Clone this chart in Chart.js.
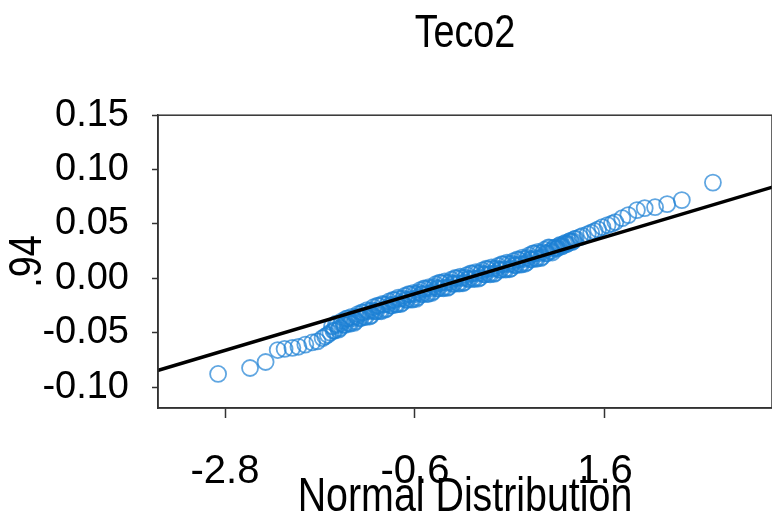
<!DOCTYPE html>
<html>
<head>
<meta charset="utf-8">
<script src="https://cdn.jsdelivr.net/npm/chart.js@4"></script>
<style>
  html, body { margin: 0; padding: 0; background: #fff; }
  canvas { display: block; }
</style>
</head>
<body>
<canvas id="qqPlot" width="772" height="525"></canvas>
<script>
// normal quantiles (x) and sorted returns (y)
const qqX = [
  -2.88, -2.51, -2.33, -2.19, -2.11, -2.02, -1.95, -1.87, -1.79, -1.73, -1.67, -1.64, -1.61, -1.58,
  -1.56, -1.53, -1.50, -1.47, -1.44, -1.41, -1.38, -1.35, -1.32, -1.29, -1.26, -1.23, -1.20, -1.17,
  -1.14, -1.11, -1.08, -1.05, -1.02, -0.99, -0.96, -0.93, -0.90, -0.87, -0.84, -0.81, -0.78, -0.75,
  -0.72, -0.69, -0.66, -0.63, -0.60, -0.57, -0.54, -0.51, -0.48, -0.45, -0.42, -0.39, -0.36, -0.33,
  -0.30, -0.27, -0.24, -0.21, -0.18, -0.15, -0.12, -0.09, -0.06, -0.03, 0.00, 0.03, 0.06, 0.09,
  0.12, 0.15, 0.18, 0.21, 0.24, 0.27, 0.30, 0.33, 0.36, 0.39, 0.42, 0.45, 0.48, 0.51,
  0.54, 0.57, 0.60, 0.63, 0.66, 0.69, 0.72, 0.75, 0.78, 0.81, 0.84, 0.87, 0.90, 0.93,
  0.96, 0.99, 1.02, 1.05, 1.08, 1.11, 1.14, 1.17, 1.20, 1.23, 1.26,
  1.31, 1.34, 1.40, 1.44, 1.48, 1.52, 1.57, 1.63, 1.68, 1.72, 1.80, 1.87, 1.97, 2.06, 2.18, 2.32, 2.49, 2.85,
  // second pass through the crowded middle
  -1.545, -1.515, -1.485, -1.455, -1.425, -1.395, -1.365, -1.335, -1.305, -1.275, -1.245, -1.215,
  -1.185, -1.155, -1.125, -1.095, -1.065, -1.035, -1.005, -0.975, -0.945, -0.915, -0.885, -0.855,
  -0.825, -0.795, -0.765, -0.735, -0.705, -0.675, -0.645, -0.615, -0.585, -0.555, -0.525, -0.495,
  -0.465, -0.435, -0.405, -0.375, -0.345, -0.315, -0.285, -0.255, -0.225, -0.195, -0.165, -0.135,
  -0.105, -0.075, -0.045, -0.015, 0.015, 0.045, 0.075, 0.105, 0.135, 0.165, 0.195, 0.225,
  0.255, 0.285, 0.315, 0.345, 0.375, 0.405, 0.435, 0.465, 0.495, 0.525, 0.555, 0.585,
  0.615, 0.645, 0.675, 0.705, 0.735, 0.765, 0.795, 0.825, 0.855, 0.885, 0.915, 0.945,
  0.975, 1.005, 1.035, 1.065, 1.095, 1.125, 1.155, 1.185, 1.215, 1.245
];
const qqY = [
  -0.0880, -0.0825, -0.0770, -0.0660, -0.0650, -0.0640, -0.0630, -0.0610, -0.0590, -0.0580, -0.0550, -0.0535, -0.0520, -0.0500,
  -0.0442, -0.0481, -0.0431, -0.0458, -0.0391, -0.0429, -0.0369, -0.0418, -0.0368, -0.0396, -0.0329, -0.0367, -0.0316, -0.0355,
  -0.0305, -0.0343, -0.0266, -0.0304, -0.0254, -0.0303, -0.0243, -0.0280, -0.0213, -0.0251, -0.0201, -0.0240, -0.0190, -0.0228,
  -0.0161, -0.0199, -0.0148, -0.0197, -0.0147, -0.0175, -0.0108, -0.0146, -0.0096, -0.0145, -0.0095, -0.0122, -0.0055, -0.0093,
  -0.0043, -0.0092, -0.0042, -0.0080, -0.0013, -0.0051, 0.0000, -0.0049, 0.0001, -0.0037, 0.0030, -0.0008, 0.0042, -0.0007,
  0.0043, 0.0006, 0.0073, 0.0035, 0.0085, 0.0036, 0.0086, 0.0048, 0.0115, 0.0077, 0.0128, 0.0079, 0.0129, 0.0091,
  0.0158, 0.0120, 0.0170, 0.0126, 0.0176, 0.0144, 0.0211, 0.0173, 0.0228, 0.0179, 0.0229, 0.0196, 0.0263, 0.0230,
  0.0281, 0.0237, 0.0282, 0.0279, 0.0306, 0.0298, 0.0325, 0.0320, 0.0344, 0.0342, 0.0365,
  0.0379, 0.0390, 0.0406, 0.0420, 0.0434, 0.0450, 0.0471, 0.0489, 0.0502, 0.0517, 0.0553, 0.0581, 0.0627, 0.0645, 0.0654, 0.0682, 0.0719, 0.0880,
  // second pass through the crowded middle
  -0.0482, -0.0418, -0.0472, -0.0415, -0.0428, -0.0371, -0.0414, -0.0355, -0.0410, -0.0353, -0.0366, -0.0313,
  -0.0356, -0.0292, -0.0352, -0.0295, -0.0303, -0.0251, -0.0299, -0.0235, -0.0289, -0.0237, -0.0250, -0.0198,
  -0.0241, -0.0177, -0.0237, -0.0185, -0.0198, -0.0145, -0.0193, -0.0134, -0.0189, -0.0132, -0.0145, -0.0093,
  -0.0141, -0.0082, -0.0136, -0.0079, -0.0092, -0.0040, -0.0088, -0.0029, -0.0089, -0.0037, -0.0050, 0.0003,
  -0.0045, 0.0014, -0.0046, 0.0006, -0.0006, 0.0046, -0.0002, 0.0057, -0.0003, 0.0050, 0.0037, 0.0089,
  0.0041, 0.0100, 0.0040, 0.0092, 0.0079, 0.0131, 0.0084, 0.0143, 0.0083, 0.0135, 0.0122, 0.0174,
  0.0128, 0.0190, 0.0133, 0.0188, 0.0175, 0.0229, 0.0184, 0.0243, 0.0185, 0.0240, 0.0229, 0.0284,
  0.0251, 0.0277, 0.0270, 0.0298, 0.0292, 0.0317, 0.0313, 0.0339, 0.0333, 0.0361
];

// reference line
const lineX = [-3.7, 3.7];
const lineY = [-0.0877, 0.0877];

const xTicks = [-2.8, -0.6, 1.6];
const xTickLabels = ["-2.8", "-0.6", "1.6"];
const yTicks = [-0.10, -0.05, 0.00, 0.05, 0.10, 0.15];
const yTickLabels = ["-0.10", "-0.05", "0.00", "0.05", "0.10", "0.15"];

const regular = "'Liberation Sans', Arial, sans-serif";

// box round the plot area
const frame = {
    id: "frame",
    afterDatasetsDraw(chart) {
        const a = chart.chartArea;
        const c = chart.ctx;
        c.save();
        c.strokeStyle = "#333";
        c.lineWidth = 1.5;
        c.strokeRect(a.left, a.top, a.right - a.left, a.bottom - a.top);
        c.restore();
    }
};

// titles in the original use a narrow face; squeeze them along the text direction
function squeezeDraw(obj, fn, vertical) {
    const orig = obj[fn].bind(obj);
    obj[fn] = function (...args) {
        const c = obj.ctx;
        const a = obj.chart.chartArea;
        const cx = (a.left + a.right) / 2;
        const cy = (a.top + a.bottom) / 2;
        c.save();
        if (vertical) {
            c.translate(0, cy); c.scale(1, 0.82); c.translate(0, -cy);
        } else {
            c.translate(cx, 0); c.scale(0.82, 1); c.translate(-cx, 0);
        }
        orig(...args);
        c.restore();
    };
}

const squeeze = {
    id: "squeeze",
    beforeDraw(chart) {
        if (chart.$squeezed) return;
        chart.$squeezed = true;
        squeezeDraw(chart.titleBlock, "draw", false);
        squeezeDraw(chart.scales.x, "drawTitle", false);
        squeezeDraw(chart.scales.y, "drawTitle", true);
    }
};

const ctx = document.getElementById("qqPlot");

new Chart(ctx, {
    type: "scatter",
    data: {
        datasets: [{
            type: "line",
            data: lineX.map((x, i) => ({ x: x, y: lineY[i] })),
            borderColor: "#000",
            borderWidth: 3.5,
            pointRadius: 0,
            fill: false,
        }, {
            data: qqX.map((x, i) => ({ x: x, y: qqY[i] })),
            pointRadius: 8,
            pointBorderWidth: 1.8,
            borderColor: "rgba(28, 128, 212, 0.7)",
            backgroundColor: "rgba(0, 0, 0, 0)",
        }],
    },
    options: {
        responsive: false,
        animation: false,
        layout: { padding: 0, autoPadding: false },
        plugins: {
            legend: { display: false },
            tooltip: { enabled: false },
            title: {
                display: true,
                text: "Teco2",
                fullSize: false,
                color: "#000",
                font: { family: regular, size: 46, weight: "normal" },
                padding: { top: 7, bottom: 53 },
            },
        },
        scales: {
            x: {
                type: "linear",
                min: -3.576,
                max: 3.534,
                afterBuildTicks: (axis) => { axis.ticks = xTicks.map(v => ({ value: v })); },
                afterFit: (axis) => {
                    axis.height = 117;
                    axis.paddingLeft = 0;
                    axis.paddingRight = 0;
                },
                grid: { drawOnChartArea: false, tickLength: 10, tickColor: "#333", tickWidth: 1.5 },
                border: { display: true, color: "#333", width: 1.5 },
                ticks: {
                    color: "#000",
                    padding: 30,
                    maxRotation: 0,
                    font: { family: regular, size: 40 },
                    callback: (v, i) => xTickLabels[i],
                },
                title: {
                    display: true,
                    text: "Normal Distribution",
                    color: "#000",
                    font: { family: regular, size: 48, lineHeight: 1 },
                    padding: { top: 0, bottom: 3 },
                },
            },
            y: {
                type: "linear",
                min: -0.1193,
                max: 0.15,
                afterBuildTicks: (axis) => { axis.ticks = yTicks.map(v => ({ value: v })); },
                afterFit: (axis) => { axis.width = 158; },
                grid: { drawOnChartArea: false, tickLength: 6, tickColor: "#333", tickWidth: 1.5 },
                border: { display: true, color: "#333", width: 1.5 },
                ticks: {
                    color: "#000",
                    padding: 23,
                    font: { family: regular, size: 38 },
                    callback: (v, i) => yTickLabels[i],
                },
                title: {
                    display: true,
                    text: ".94",
                    color: "#000",
                    font: { family: regular, size: 46, lineHeight: 1 },
                    padding: { top: 5, bottom: 0 },
                },
            },
        },
    },
    plugins: [frame, squeeze]
});
</script>
</body>
</html>
